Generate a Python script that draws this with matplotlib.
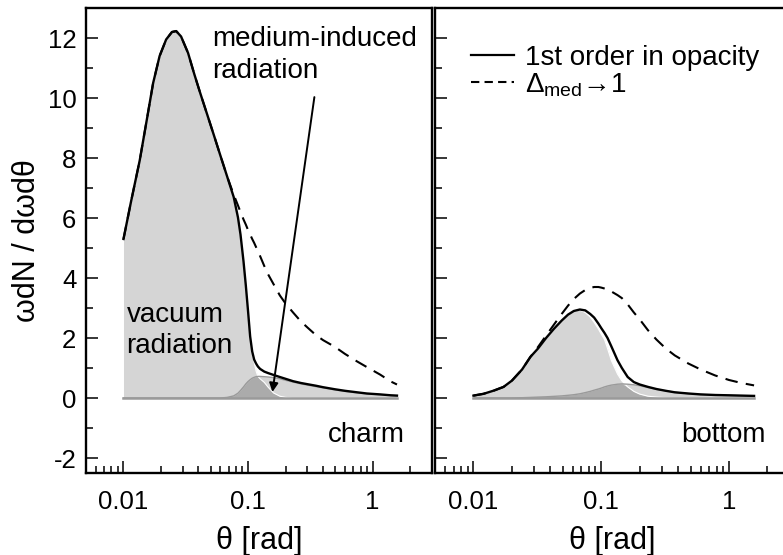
import numpy as np
import matplotlib
matplotlib.use('Agg')
import matplotlib.pyplot as plt
from matplotlib.lines import Line2D
from matplotlib.ticker import FixedLocator, MultipleLocator, LogLocator, NullFormatter

plt.rcParams['font.family'] = ['Liberation Sans', 'DejaVu Sans']
plt.rcParams['mathtext.fontset'] = 'custom'
plt.rcParams['mathtext.rm'] = 'Liberation Sans'
plt.rcParams['mathtext.it'] = 'Liberation Sans:italic'

# ---- charm panel ----
theta_c = [0.0100, 0.0115, 0.0135, 0.0155, 0.0173, 0.0195, 0.0220, 0.0245, 0.0265,
           0.0290, 0.0330, 0.0370, 0.0412, 0.0470, 0.0530, 0.0600, 0.0680, 0.0767,
           0.0830, 0.0870, 0.0920, 0.0960, 0.1000, 0.1040, 0.1080, 0.1120, 0.1160,
           0.1200, 0.1250, 0.1350, 0.1450, 0.1600, 0.1800, 0.2000, 0.2300, 0.2660,
           0.3000, 0.3500, 0.4000, 0.5000, 0.6000, 0.7500, 0.9000, 1.1500, 1.4000, 1.5700]
solid_c = [5.30, 6.55, 7.92, 9.35, 10.50, 11.40, 11.95, 12.20, 12.23,
           12.05, 11.50, 10.80, 10.18, 9.45, 8.78, 8.08, 7.38, 6.70,
           6.02, 5.45, 4.55, 3.75, 2.90, 2.05, 1.55, 1.28, 1.15,
           1.05, 0.97, 0.88, 0.83, 0.77, 0.70, 0.64, 0.56, 0.50,
           0.46, 0.41, 0.36, 0.29, 0.24, 0.19, 0.15, 0.12, 0.09, 0.08]
dashed_c = [5.30, 6.55, 7.92, 9.35, 10.50, 11.40, 11.95, 12.20, 12.23,
            12.05, 11.50, 10.80, 10.18, 9.45, 8.78, 8.08, 7.38, 6.78,
            6.42, 6.20, 5.95, 5.78, 5.60, 5.45, 5.30, 5.17, 5.03,
            4.90, 4.73, 4.40, 4.12, 3.80, 3.42, 3.15, 2.85, 2.55,
            2.35, 2.10, 1.93, 1.70, 1.47, 1.22, 1.03, 0.78, 0.55, 0.45]
vac_c = [5.30, 6.55, 7.92, 9.35, 10.50, 11.40, 11.95, 12.20, 12.23,
         12.05, 11.50, 10.80, 10.18, 9.45, 8.78, 8.08, 7.38, 6.70,
         6.02, 5.45, 4.55, 3.75, 2.90, 2.05, 1.50, 1.20, 0.90,
         0.72, 0.64, 0.52, 0.36, 0.17, 0.06, 0.02, 0.0, 0.0,
         0.0, 0.0, 0.0, 0.0, 0.0, 0.0, 0.0, 0.0, 0.0, 0.0]
med_c = [0.0, 0.0, 0.0, 0.0, 0.0, 0.0, 0.0, 0.0, 0.0,
         0.0, 0.0, 0.0, 0.0, 0.0, 0.0, 0.0, 0.02, 0.07,
         0.16, 0.25, 0.37, 0.47, 0.55, 0.61, 0.66, 0.69, 0.71,
         0.72, 0.72, 0.71, 0.70, 0.68, 0.64, 0.59, 0.53, 0.47,
         0.43, 0.38, 0.34, 0.27, 0.22, 0.17, 0.14, 0.11, 0.085, 0.075]

# ---- bottom panel ----
theta_b = [0.0100, 0.0120, 0.0145, 0.0172, 0.0200, 0.0240, 0.0279, 0.0320, 0.0370,
           0.0427, 0.0490, 0.0550, 0.0610, 0.0680, 0.0750, 0.0820, 0.0880, 0.0950,
           0.1000, 0.1060, 0.1120, 0.1200, 0.1340, 0.1450, 0.1610, 0.1800, 0.2000,
           0.2320, 0.2700, 0.3200, 0.3760, 0.4800, 0.6000, 0.7800, 1.0000, 1.2500, 1.5700]
solid_b = [0.08, 0.14, 0.25, 0.37, 0.58, 0.95, 1.37, 1.65, 2.00,
           2.31, 2.58, 2.78, 2.90, 2.95, 2.92, 2.80, 2.68, 2.48,
           2.33, 2.17, 2.00, 1.72, 1.26, 1.00, 0.70, 0.53, 0.45,
           0.37, 0.30, 0.24, 0.19, 0.15, 0.12, 0.10, 0.09, 0.08, 0.07]
dashed_b = [0.08, 0.14, 0.25, 0.37, 0.58, 0.95, 1.37, 1.70, 2.08,
            2.45, 2.80, 3.08, 3.30, 3.48, 3.60, 3.67, 3.70, 3.70,
            3.68, 3.65, 3.62, 3.55, 3.43, 3.33, 3.12, 2.85, 2.62,
            2.26, 1.95, 1.65, 1.42, 1.15, 0.95, 0.75, 0.60, 0.50, 0.42]
vac_b = [0.08, 0.14, 0.25, 0.37, 0.58, 0.95, 1.37, 1.65, 2.00,
         2.31, 2.58, 2.78, 2.90, 2.93, 2.85, 2.70, 2.52, 2.30,
         2.13, 1.95, 1.65, 1.25, 0.80, 0.57, 0.37, 0.22, 0.13,
         0.06, 0.03, 0.01, 0.0, 0.0, 0.0, 0.0, 0.0, 0.0, 0.0]
med_b = [0.0, 0.0, 0.0, 0.0, 0.0, 0.01, 0.02, 0.03, 0.04,
         0.055, 0.07, 0.09, 0.11, 0.14, 0.18, 0.22, 0.26, 0.30,
         0.33, 0.37, 0.40, 0.43, 0.46, 0.47, 0.46, 0.44, 0.41,
         0.35, 0.29, 0.24, 0.19, 0.145, 0.115, 0.095, 0.085, 0.075, 0.065]

LIGHT = '#d5d5d5'
DARK = '#ababab'
EDGE = '#9a9a9a'


def draw_panel(ax, theta, solid, dashed, vac, med):
    theta = np.array(theta)
    vac = np.array(vac)
    med = np.array(med)
    ax.fill_between(theta, 0, vac, color=LIGHT, lw=0)
    ax.fill_between(theta, 0, med, color=LIGHT, lw=0)
    ax.fill_between(theta, 0, np.minimum(vac, med), color=DARK, lw=0)
    ax.plot(theta, vac, color='white', lw=0.8)
    ax.plot(theta, med, color=EDGE, lw=1.0)
    ax.plot(theta, np.zeros_like(theta), color=EDGE, lw=1.8)
    ax.plot(theta, dashed, color='k', ls='--', lw=1.5, dashes=(6, 4))
    ax.plot(theta, solid, color='k', lw=1.7)

    ax.set_xscale('log')
    ax.set_xlim(0.005, 3.0)
    ax.set_ylim(-2.5, 13)
    ax.xaxis.set_major_locator(FixedLocator([0.01, 0.1, 1]))
    ax.xaxis.set_minor_locator(LogLocator(base=10, subs=np.arange(2, 10)))
    ax.xaxis.set_minor_formatter(NullFormatter())
    ax.yaxis.set_major_locator(MultipleLocator(2))
    ax.yaxis.set_minor_locator(MultipleLocator(1))
    ax.tick_params(which='both', direction='in', top=False, right=False, width=1.1)
    ax.tick_params(which='major', length=8.5, labelsize=18.5)
    ax.tick_params(which='minor', length=5)
    ax.tick_params(axis='x', which='major', pad=12)
    ax.tick_params(axis='y', which='major', pad=7)
    for s in ax.spines.values():
        s.set_linewidth(1.7)
    ax.set_xlabel('θ [rad]', fontsize=22)
    ax.xaxis.set_label_coords(0.5, -0.115)


fig = plt.figure(figsize=(7.83, 5.55), dpi=100)
ax1 = fig.add_axes([86 / 783, 82 / 555, 346 / 783, 465 / 555])
ax2 = fig.add_axes([435 / 783, 82 / 555, 355 / 783, 465 / 555])

draw_panel(ax1, theta_c, solid_c, dashed_c, vac_c, med_c)
draw_panel(ax2, theta_b, solid_b, dashed_b, vac_b, med_b)

ax1.set_xticklabels(['0.01', '0.1', '1'])
ax2.set_xticklabels(['0.01', '0.1', '1'])
ax1.set_yticks(range(-2, 13, 2))
ax1.set_yticklabels(['-2', '0', '2', '4', '6', '8', '10', '12'])
ax2.tick_params(axis='y', labelleft=False)

ax1.set_ylabel('ωdN / dωdθ', fontsize=22)
ax1.yaxis.set_label_coords(-0.128, 0.5)

ax1.text(0.0516, 12.4, 'medium-induced\nradiation', fontsize=20, ha='left', va='top',
         linespacing=1.3)
ax1.annotate('', xy=(0.157, 0.2), xytext=(0.341, 10.03),
             arrowprops=dict(arrowstyle='-|>', color='k', lw=1.4, mutation_scale=13,
                             shrinkA=0, shrinkB=0))
ax1.text(0.01057, 3.2, 'vacuum\nradiation', fontsize=20, ha='left', va='top',
         linespacing=1.25)
ax1.text(1.82, -1.47, 'charm', fontsize=20, ha='right', va='baseline')
ax2.text(1.92, -1.47, 'bottom', fontsize=20, ha='right', va='baseline')

handles = [Line2D([], [], color='k', lw=1.6),
           Line2D([], [], color='k', ls='--', lw=1.5, dashes=(4, 2.5))]
ax2.legend(handles, ['1st order in opacity', r'$\Delta_{\mathrm{med}}$→1'],
           loc='upper left', bbox_to_anchor=(0.1, 0.92), frameon=False,
           fontsize=20, handlelength=1.55, handletextpad=0.4, labelspacing=0.0,
           borderpad=0, borderaxespad=0)

fig.savefig('out.png', dpi=100)
